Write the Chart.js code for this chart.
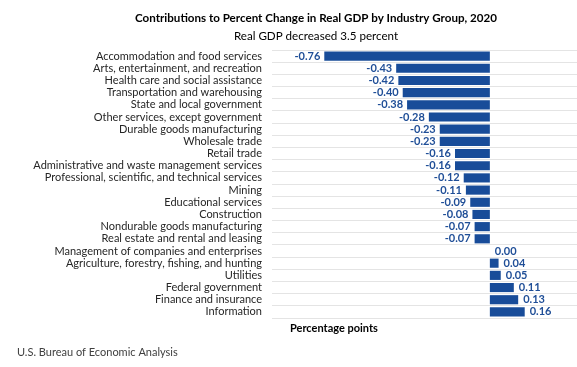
<!DOCTYPE html>
<html>
<head>
<meta charset="utf-8">
<script src="https://cdn.jsdelivr.net/npm/chart.js@4.4.1/dist/chart.umd.min.js"></script>
<style>
    html, body { margin: 0; padding: 0; background: #ffffff; }
    #wrap { width: 577px; height: 367px; position: relative; }
</style>
</head>
<body>
<div id="wrap"><canvas id="gdpChart"></canvas></div>
<script>
let industries = [
    'Accommodation and food services',
    'Arts, entertainment, and recreation',
    'Health care and social assistance',
    'Transportation and warehousing',
    'State and local government',
    'Other services, except government',
    'Durable goods manufacturing',
    'Wholesale trade',
    'Retail trade',
    'Administrative and waste management services',
    'Professional, scientific, and technical services',
    'Mining',
    'Educational services',
    'Construction',
    'Nondurable goods manufacturing',
    'Real estate and rental and leasing',
    'Management of companies and enterprises',
    'Agriculture, forestry, fishing, and hunting',
    'Utilities',
    'Federal government',
    'Finance and insurance',
    'Information'
];
let contributions = [
    -0.76, -0.43, -0.42, -0.40, -0.38, -0.28, -0.23, -0.23, -0.16, -0.16, -0.12,
    -0.11, -0.09, -0.08, -0.07, -0.07, 0.00, 0.04, 0.05, 0.11, 0.13, 0.16
];
let titleText = 'Contributions to Percent Change in Real GDP by Industry Group, 2020';
let subtitleText = 'Real GDP decreased 3.5 percent';
let axisTitle = 'Percentage points';
let sourceText = 'U.S. Bureau of Economic Analysis';

const fontFamily = 'Lato, "Open Sans", sans-serif';
const barColor = '#184C99';
const labelColor = '#1F4E97';

// value labels at the end of each bar, plus titles and the texts under the plot
const extrasPlugin = {
    id: 'extras',
    afterDatasetsDraw(chart) {
        const ctx = chart.ctx;
        const meta = chart.getDatasetMeta(0);
        ctx.save();
        ctx.font = 'bold 11px ' + fontFamily;
        ctx.fillStyle = labelColor;
        ctx.textBaseline = 'middle';
        meta.data.forEach((bar, i) => {
            const v = contributions[i];
            const txt = v.toFixed(2);
            if (v < 0) {
                ctx.textAlign = 'right';
                ctx.fillText(txt, bar.x - 4, bar.y);
            } else {
                ctx.textAlign = 'left';
                ctx.fillText(txt, bar.x + 5, bar.y);
            }
        });
        ctx.restore();
    },
    afterDraw(chart) {
        const ctx = chart.ctx;
        const area = chart.chartArea;
        ctx.save();
        ctx.textBaseline = 'middle';
        ctx.textAlign = 'center';
        ctx.fillStyle = '#000000';
        ctx.font = 'bold 11.6px ' + fontFamily;
        ctx.fillText(titleText, 316, 18);
        ctx.font = '11.6px ' + fontFamily;
        ctx.fillText(subtitleText, 316, 36);

        ctx.textAlign = 'left';
        ctx.font = 'bold 11px ' + fontFamily;
        ctx.fillText(axisTitle, 290, area.bottom + 10);
        ctx.font = '11px ' + fontFamily;
        ctx.fillStyle = '#404040';
        ctx.fillText(sourceText, 17, 352);
        ctx.restore();
    }
};

const ctx = document.getElementById('gdpChart').getContext('2d');
const chart = new Chart(ctx, {
    type: 'bar',
    data: {
        labels: industries,
        datasets: [{
            data: contributions,
            backgroundColor: barColor,
            borderWidth: 0,
            barPercentage: 0.75,
            categoryPercentage: 1.0
        }]
    },
    options: {
        indexAxis: 'y',
        responsive: true,
        maintainAspectRatio: false,
        animation: false,
        layout: {
            padding: { left: 0, right: 0, top: 50, bottom: 49 }
        },
        plugins: {
            legend: { display: false },
            tooltip: { enabled: false },
            title: { display: false },
            subtitle: { display: false }
        },
        scales: {
            x: {
                display: false,
                min: -1.0,
                max: 0.4
            },
            y: {
                afterFit(scale) { scale.width = 272; },
                border: { display: false },
                grid: {
                    color: '#E4E4E4',
                    lineWidth: 1,
                    drawTicks: false,
                    offset: true
                },
                ticks: {
                    autoSkip: false,
                    padding: 10,
                    color: '#262626',
                    font: { family: fontFamily, size: 11 }
                }
            }
        }
    },
    plugins: [extrasPlugin]
});
</script>
</body>
</html>
